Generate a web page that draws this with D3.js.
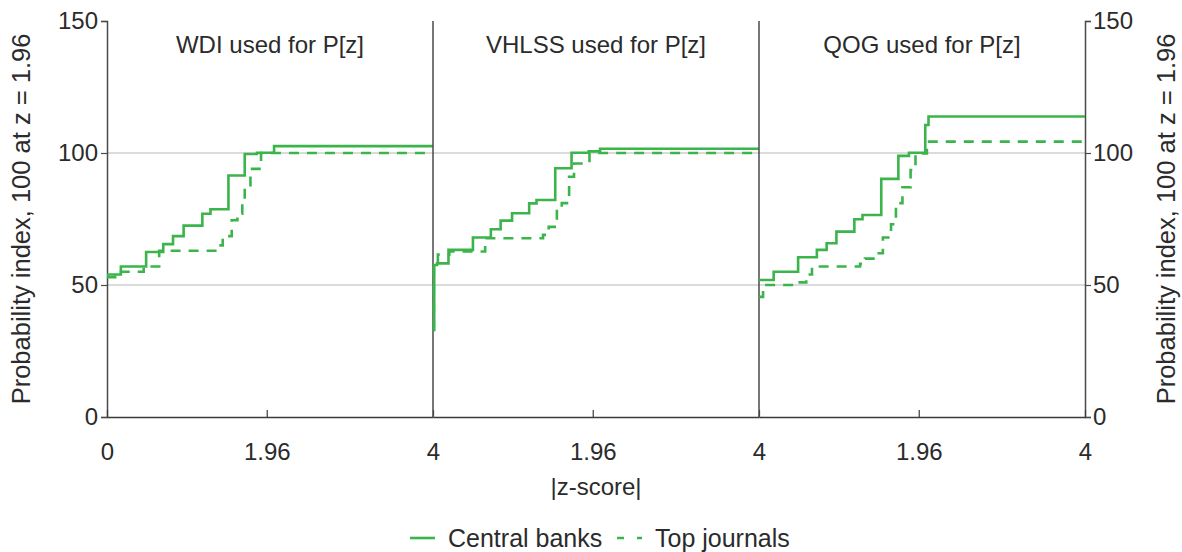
<!DOCTYPE html>
<html>
<head>
<meta charset="utf-8">
<script src="https://cdn.jsdelivr.net/npm/d3@7"></script>
<style>
    body { margin: 0; background: #fff; }
    svg text { font-family: "Liberation Sans", Arial, sans-serif; fill: #2b2b2b; }
</style>
</head>
<body>
<svg id="chart" width="1182" height="552"></svg>
<script>
const WIDTH = 1182;
const HEIGHT = 552;
const LEFT = 107;
const RIGHT = 1085;
const TOP = 21;
const BOTTOM = 417;
const GREEN = "#3bb44c";

const PANELS = ["WDI used for P[z]", "VHLSS used for P[z]", "QOG used for P[z]"];
const SERIES = ["Central banks", "Top journals"];
const Y_TICKS = [0, 50, 100, 150];
const X_TICK_LABELS = [["0", "1.96", "4"], ["1.96", "4"], ["1.96", "4"]];

// step points [|z|, index]
const wdiBanks = [[0, 54], [0.17, 57], [0.48, 62.5], [0.69, 65.5], [0.81, 68.5], [0.94, 72.5],
    [1.17, 77], [1.27, 78.7], [1.49, 91.5], [1.69, 99.6], [1.84, 100.1], [2.05, 102.6], [4, 102.6]];
const wdiJournals = [[0, 53], [0.1, 55], [0.45, 57], [0.64, 63], [1.35, 65], [1.42, 68.5],
    [1.53, 74.5], [1.6, 77], [1.66, 81], [1.69, 87], [1.76, 94], [1.89, 100], [4, 100]];
const vhlssBanks = [[0, 33], [0.015, 57.6], [0.05, 58.2], [0.19, 63.3], [0.49, 68], [0.71, 71.1],
    [0.83, 74.4], [0.97, 77.2], [1.18, 80.9], [1.27, 82.2], [1.5, 94.2], [1.7, 100.1],
    [1.91, 100.6], [2.05, 101.6], [4, 101.6]];
const vhlssJournals = [[0, 33], [0.01, 57], [0.06, 61.5], [0.2, 62.7], [0.64, 67.7], [1.35, 69],
    [1.42, 72], [1.52, 79], [1.58, 81], [1.67, 91], [1.73, 96], [1.92, 100], [4, 100]];
const qogBanks = [[0, 51.9], [0.18, 55], [0.48, 60.5], [0.71, 63.3], [0.83, 65.8], [0.95, 70.2],
    [1.17, 74.9], [1.27, 76.5], [1.5, 90.2], [1.71, 98.9], [1.84, 100.1], [2.04, 110.6],
    [2.08, 113.8], [4, 113.8]];
const qogJournals = [[0, 45.5], [0.05, 50], [0.5, 51], [0.58, 54], [0.65, 57], [1.24, 58],
    [1.3, 60], [1.45, 62], [1.52, 68], [1.62, 73], [1.68, 81], [1.76, 87], [1.86, 93.5],
    [1.92, 99.8], [2.06, 104.3], [4, 104.3]];

const BANKS = [wdiBanks, vhlssBanks, qogBanks];
const JOURNALS = [wdiJournals, vhlssJournals, qogJournals];

const svg = d3.select("#chart");

const panelW = (RIGHT - LEFT) / PANELS.length;
const y = d3.scaleLinear().domain([0, 150]).range([BOTTOM, TOP]);

// gridlines
svg.append("g")
    .selectAll("line")
    .data([50, 100])
    .join("line")
    .attr("x1", LEFT).attr("x2", RIGHT)
    .attr("y1", d => y(d)).attr("y2", d => y(d))
    .attr("stroke", "#cfcfcf")
    .attr("stroke-width", 1.5);

// y axes, left and right
const yLeft = svg.append("g")
    .attr("transform", `translate(${LEFT},0)`)
    .call(d3.axisLeft(y).tickValues(Y_TICKS).tickSize(6).tickPadding(3));
const yRight = svg.append("g")
    .attr("transform", `translate(${RIGHT},0)`)
    .call(d3.axisRight(y).tickValues(Y_TICKS).tickSize(6).tickPadding(2));
[yLeft, yRight].forEach(g => {
    g.select(".domain").attr("stroke", "#4a4a4a").attr("stroke-width", 1.5);
    g.selectAll(".tick line").attr("stroke", "#4a4a4a").attr("stroke-width", 1.2);
    g.selectAll(".tick text").attr("font-size", 24).attr("fill", "#2b2b2b")
        .attr("font-family", "Liberation Sans, Arial, sans-serif");
});

const line = d3.line().curve(d3.curveStepAfter);

PANELS.forEach((title, i) => {
    const x0 = LEFT + i * panelW;
    const x = d3.scaleLinear().domain([0, 4]).range([x0, x0 + panelW]);
    const tickVals = i === 0 ? [0, 1.96, 4] : [1.96, 4];

    const gx = svg.append("g")
        .attr("transform", `translate(0,${BOTTOM})`)
        .call(d3.axisBottom(x).tickValues(tickVals).tickSize(0)
            .tickFormat((d, k) => X_TICK_LABELS[i][k]).tickPadding(26));
    gx.select(".domain").attr("stroke", "#3a3a3a").attr("stroke-width", 1.5);
    gx.selectAll(".tick text").attr("font-size", 24).attr("fill", "#2b2b2b")
        .attr("font-family", "Liberation Sans, Arial, sans-serif");
    // inward ticks
    gx.selectAll(".tick line").attr("y2", -7).attr("stroke", "#3a3a3a").attr("stroke-width", 1.2);

    // panel separator
    if (i > 0) {
        svg.append("line")
            .attr("x1", x0).attr("x2", x0)
            .attr("y1", TOP).attr("y2", BOTTOM)
            .attr("stroke", "#4a4a4a")
            .attr("stroke-width", 1.5);
    }

    svg.append("text")
        .attr("x", x0 + panelW / 2)
        .attr("y", 53)
        .attr("text-anchor", "middle")
        .attr("font-size", 24)
        .text(title);

    svg.append("path")
        .attr("d", line(JOURNALS[i].map(d => [x(d[0]), y(d[1])])))
        .attr("fill", "none")
        .attr("stroke", GREEN)
        .attr("stroke-width", 2.6)
        .attr("stroke-dasharray", "10 8");

    svg.append("path")
        .attr("d", line(BANKS[i].map(d => [x(d[0]), y(d[1])])))
        .attr("fill", "none")
        .attr("stroke", GREEN)
        .attr("stroke-width", 2.6);
});

// axis titles
svg.append("text")
    .attr("transform", `translate(30,${(TOP + BOTTOM) / 2}) rotate(-90)`)
    .attr("text-anchor", "middle")
    .attr("font-size", 25.5)
    .text("Probability index, 100 at z = 1.96");
svg.append("text")
    .attr("transform", `translate(1175,${(TOP + BOTTOM) / 2}) rotate(-90)`)
    .attr("text-anchor", "middle")
    .attr("font-size", 25.5)
    .text("Probability index, 100 at z = 1.96");
svg.append("text")
    .attr("x", LEFT + panelW * 1.5)
    .attr("y", 495)
    .attr("text-anchor", "middle")
    .attr("font-size", 24)
    .text("|z-score|");

// legend
const legend = svg.append("g").attr("transform", "translate(410,538)");
legend.append("line")
    .attr("x1", 0).attr("x2", 25).attr("y1", 0).attr("y2", 0)
    .attr("stroke", GREEN).attr("stroke-width", 2.6);
legend.append("text")
    .attr("x", 38).attr("y", 8.5)
    .attr("font-size", 25)
    .text(SERIES[0]);
legend.append("line")
    .attr("x1", 207).attr("x2", 232).attr("y1", 0).attr("y2", 0)
    .attr("stroke", GREEN).attr("stroke-width", 2.6)
    .attr("stroke-dasharray", "7 13");
legend.append("text")
    .attr("x", 245).attr("y", 8.5)
    .attr("font-size", 25)
    .text(SERIES[1]);
</script>
</body>
</html>
